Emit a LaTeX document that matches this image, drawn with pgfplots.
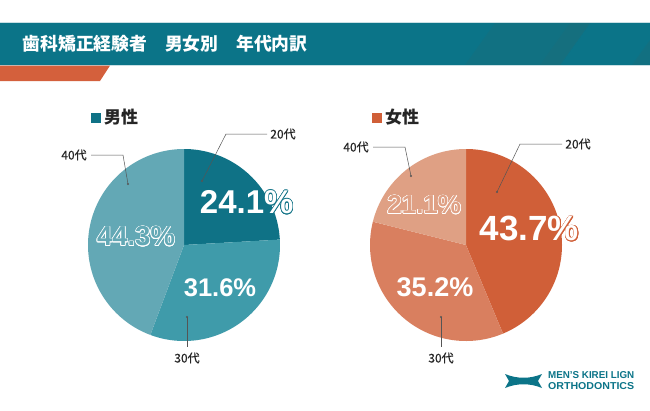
\documentclass[border=0pt]{standalone}
\usepackage{fontspec}
\setmainfont{Liberation Sans}
\newfontfamily\jp{Noto Sans CJK JP}
\newfontfamily\jpm[FakeBold=0.5]{Noto Sans CJK JP}
\usepackage{pgfplots}
\pgfplotsset{compat=1.18}
\usepackage{contour}
\contourlength{0.6pt}
\definecolor{hdr}{HTML}{0B7488}
\definecolor{hdrs}{HTML}{1A6E7C}
\definecolor{org}{HTML}{D4603C}
\definecolor{mA}{HTML}{0F7286}
\definecolor{mB}{HTML}{3F9BAA}
\definecolor{mC}{HTML}{63A8B5}
\definecolor{fA}{HTML}{D05F38}
\definecolor{fB}{HTML}{D97F5F}
\definecolor{fC}{HTML}{DFA084}
\definecolor{ldr}{HTML}{555555}
% data (percent)
\def\maleA{24.1}\def\maleB{31.6}\def\maleC{44.3}
\def\femA{43.7}\def\femB{35.2}\def\femC{21.1}
\newcommand{\slice}[5]{%
 \addplot[draw=none, fill=#5, domain=#3:#4, samples=120, variable=\t]
  ({#1+96*cos(90-3.6*\t)},{#2-96*sin(90-3.6*\t)}) -- (axis cs:#1,#2) -- cycle;}
\begin{document}
\begin{tikzpicture}
\useasboundingbox (0,0) rectangle (650pt,410pt);
\fill[white] (0,0) rectangle (650pt,410pt);
\begin{axis}[at={(0,0)}, anchor=south west, scale only axis, x=1pt, y=1pt,
  xmin=0, xmax=650, ymin=0, ymax=410, y dir=reverse, hide axis, clip=false]
% header
\fill[hdr] (axis cs:0,23) rectangle (axis cs:650,65);
\fill[hdrs, opacity=0.45] (axis cs:465,65) -- (axis cs:495,23) -- (axis cs:590,23) -- (axis cs:560,65) -- cycle;
\fill[hdrs, opacity=0.5] (axis cs:540,65) -- (axis cs:570,23) -- (axis cs:590,23) -- (axis cs:560,65) -- cycle;
\fill[hdrs, opacity=0.5] (axis cs:632,65) -- (axis cs:650,40) -- (axis cs:650,65) -- cycle;
\draw[color=hdr!22, line width=0.8pt] (axis cs:0,22.6) -- (axis cs:650,22.6);
\draw[color=hdr!22, line width=0.8pt] (axis cs:0,65.2) -- (axis cs:650,65.2);
\fill[org] (axis cs:0,65.6) -- (axis cs:110,65.6) -- (axis cs:100,81) -- (axis cs:0,81) -- cycle;
\node[anchor=west, inner sep=0, text=white, font=\jp\bfseries\fontsize{17.8}{18}\selectfont] at (axis cs:22.5,44) {歯科矯正経験者　男女別　年代内訳};
% male pie
\pgfmathsetmacro{\mAB}{\maleA+\maleB}
\slice{184}{245}{0}{\maleA}{mA}
\slice{184}{245}{\maleA}{\mAB}{mB}
\slice{184}{245}{\mAB}{100}{mC}
% female pie
\pgfmathsetmacro{\fAB}{\femA+\femB}
\slice{466}{245}{0}{\femA}{fA}
\slice{466}{245}{\femA}{\fAB}{fB}
\slice{466}{245}{\fAB}{100}{fC}
% legends
\fill[mA] (axis cs:91,113) rectangle (axis cs:100.5,122.5);
\node[anchor=west, inner sep=0, font=\jp\bfseries\fontsize{17}{18}\selectfont, text=black!85] at (axis cs:104,117.5) {男性};
\fill[fA] (axis cs:372,113) rectangle (axis cs:381.5,122.5);
\node[anchor=west, inner sep=0, font=\jp\bfseries\fontsize{17}{18}\selectfont, text=black!85] at (axis cs:385,117.5) {女性};
% leader lines male
\draw[ldr, line width=0.5pt] (axis cs:267,134) -- (axis cs:226,134) -- (axis cs:202,181);
\fill[ldr] (axis cs:202,181) circle (1.1pt);
\node[anchor=center, inner sep=0, font=\jpm\fontsize{12}{12}\selectfont, text=black!85] at (axis cs:283,134) {20代};
\draw[ldr, line width=0.5pt] (axis cs:91,155) -- (axis cs:123,155) -- (axis cs:128,184);
\fill[ldr] (axis cs:128,184) circle (1.1pt);
\node[anchor=center, inner sep=0, font=\jpm\fontsize{12}{12}\selectfont, text=black!85] at (axis cs:74,155) {40代};
\draw[ldr, line width=0.5pt] (axis cs:187,317) -- (axis cs:187,347);
\fill[ldr] (axis cs:187,317) circle (1.1pt);
\node[anchor=center, inner sep=0, font=\jpm\fontsize{12}{12}\selectfont, text=black!85] at (axis cs:187,358) {30代};
% leader lines female
\draw[ldr, line width=0.5pt] (axis cs:562,144) -- (axis cs:520,144) -- (axis cs:497,192);
\fill[ldr] (axis cs:497,192) circle (1.1pt);
\node[anchor=center, inner sep=0, font=\jpm\fontsize{12}{12}\selectfont, text=black!85] at (axis cs:578,144) {20代};
\draw[ldr, line width=0.5pt] (axis cs:373,147) -- (axis cs:405,147) -- (axis cs:411,176);
\fill[ldr] (axis cs:411,176) circle (1.1pt);
\node[anchor=center, inner sep=0, font=\jpm\fontsize{12}{12}\selectfont, text=black!85] at (axis cs:356,147) {40代};
\draw[ldr, line width=0.5pt] (axis cs:441,317) -- (axis cs:441,347);
\fill[ldr] (axis cs:441,317) circle (1.1pt);
\node[anchor=center, inner sep=0, font=\jpm\fontsize{12}{12}\selectfont, text=black!85] at (axis cs:441,358) {30代};
% percentages
\node[inner sep=0, font=\bfseries\fontsize{33}{34}\selectfont] at (axis cs:246.7,202.5) {\contour{mA}{\textcolor{white}{\maleA\%}}};
\node[inner sep=0, font=\bfseries\fontsize{25.5}{26}\selectfont, text=white] at (axis cs:220,287.5) {\maleB\%};
\node[inner sep=0, font=\bfseries\fontsize{27.5}{28}\selectfont] at (axis cs:136,236.7) {\contour{white}{\textcolor{mC}{\maleC\%}}};
\node[inner sep=0, font=\bfseries\fontsize{35}{36}\selectfont] at (axis cs:529.3,229.2) {\contour{fA}{\textcolor{white}{\femA\%}}};
\node[inner sep=0, font=\bfseries\fontsize{27}{28}\selectfont, text=white] at (axis cs:435,287.5) {\femB\%};
\node[inner sep=0, font=\bfseries\fontsize{26}{27}\selectfont] at (axis cs:424.2,205) {\contour{white}{\textcolor{fC}{\femC\%}}};
% logo
\fill[hdr] (axis cs:505,374) .. controls (axis cs:517,379) and (axis cs:530,379) .. (axis cs:542,374)
  -- (axis cs:538,381) -- (axis cs:542,388)
  .. controls (axis cs:530,383) and (axis cs:517,383) .. (axis cs:505,388)
  -- (axis cs:509,381) -- cycle;
\node[anchor=west, inner sep=0, text=hdr] at (axis cs:548,375.5) {\resizebox{86pt}{7pt}{\bfseries MEN'S KIREI LIGN}};
\node[anchor=west, inner sep=0, text=hdr] at (axis cs:548,386) {\resizebox{86pt}{7pt}{\bfseries ORTHODONTICS}};
\end{axis}
\end{tikzpicture}
\end{document}
